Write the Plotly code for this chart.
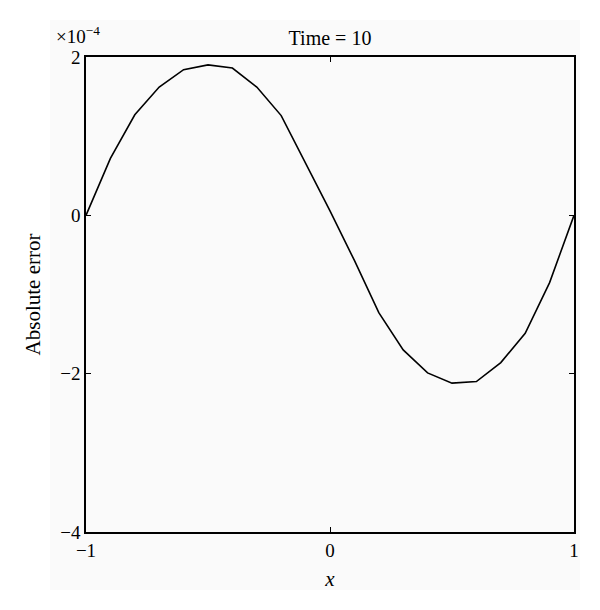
import plotly.graph_objects as go

x_vals = [-1.0, -0.9, -0.8, -0.7, -0.6, -0.5, -0.4, -0.3, -0.2, -0.1, 0.0,
          0.1, 0.2, 0.3, 0.4, 0.5, 0.6, 0.7, 0.8, 0.9, 1.0]
err_e4 = [0.0, 0.72, 1.27, 1.62, 1.84, 1.90, 1.86, 1.62, 1.26, 0.66, 0.055,
          -0.57, -1.23, -1.70, -1.99, -2.12, -2.10, -1.86, -1.49, -0.85, 0.0]
x_ticks = [-1, 0, 1]
x_tick_text = ["\u22121", "0", "1"]
y_ticks = [2, 0, -2, -4]
y_tick_text = ["2", "0", "\u22122", "\u22124"]

FONT = "Liberation Serif, Times New Roman, serif"

fig = go.Figure()
fig.add_trace(go.Scatter(x=x_vals, y=err_e4, mode="lines",
                         line=dict(color="black", width=1.6), showlegend=False))

fig.update_layout(
    width=592, height=602,
    margin=dict(l=78, r=26, t=49, b=78),
    paper_bgcolor="white", plot_bgcolor="white",
    font=dict(family=FONT, size=19, color="black"),
    title=dict(text="Time = 10", x=(330 - 8) / 592, xanchor="center",
               y=1 - 30/602, yanchor="middle",
               font=dict(family=FONT, size=20)),
    shapes=[dict(type="rect", xref="paper", yref="paper", layer="below",
                 x0=-36/488, x1=1 + 6/488, y0=-58/475, y1=1 + 37/475,
                 fillcolor="#fafafa", line=dict(width=0))],
    annotations=[dict(text="\u00d710<sup>\u22124</sup>", xref="paper", yref="paper",
                      x=-32/488, y=1 + 22/475, xanchor="left", yanchor="middle",
                      showarrow=False, font=dict(family=FONT, size=19))],
)
fig.update_xaxes(range=[-1, 1], tickvals=x_ticks, ticktext=x_tick_text,
                 ticks="inside", ticklen=5, tickcolor="black", mirror="ticks",
                 showline=True, linecolor="black", linewidth=1.5, showgrid=False,
                 zeroline=False, automargin=False,
                 title=dict(text="<i>x</i>", font=dict(family=FONT, size=21), standoff=12))
fig.update_yaxes(range=[-4, 2], tickvals=y_ticks, ticktext=y_tick_text,
                 ticks="inside", ticklen=5, tickcolor="black", mirror="ticks",
                 showline=True, linecolor="black", linewidth=1.5, showgrid=False,
                 zeroline=False, automargin=False,
                 title=dict(text="Absolute error", font=dict(family=FONT, size=21), standoff=14))

fig.write_html("out.html")
